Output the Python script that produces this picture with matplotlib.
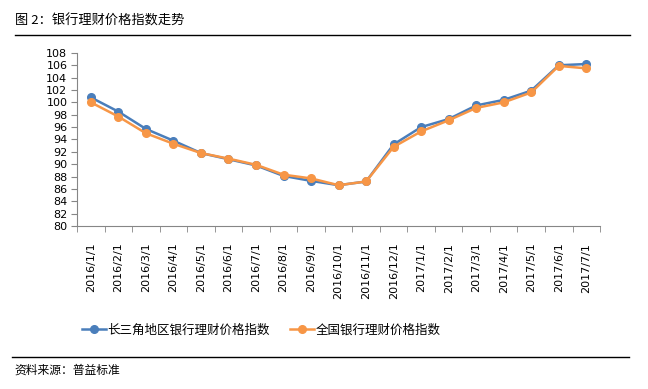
import matplotlib
matplotlib.use('Agg')
import matplotlib.pyplot as plt
from matplotlib.lines import Line2D

plt.rcParams['font.family'] = ['Noto Sans CJK SC', 'DejaVu Sans']

dates = ['2016/1/1', '2016/2/1', '2016/3/1', '2016/4/1', '2016/5/1', '2016/6/1',
         '2016/7/1', '2016/8/1', '2016/9/1', '2016/10/1', '2016/11/1', '2016/12/1',
         '2017/1/1', '2017/2/1', '2017/3/1', '2017/4/1', '2017/5/1', '2017/6/1',
         '2017/7/1']
csj = [100.8, 98.5, 95.7, 93.8, 91.8, 90.8, 89.8, 88.1, 87.3, 86.6, 87.2, 93.2,
       96.0, 97.3, 99.5, 100.4, 101.9, 106.0, 106.2]
national = [100.0, 97.7, 95.0, 93.3, 91.8, 90.9, 89.9, 88.3, 87.7, 86.6, 87.2, 92.8,
            95.3, 97.1, 99.1, 100.0, 101.6, 105.9, 105.5]

blue = '#4A7EBB'
orange = '#F79646'
grey = '#868686'

fig = plt.figure(figsize=(6.48, 3.89), dpi=100)
ax = fig.add_axes([0.119, 0.419, 0.807, 0.445])

x = list(range(len(dates)))
ax.plot(x, csj, color=blue, lw=1.8, marker='o', ms=5.5, label='长三角地区银行理财价格指数')
ax.plot(x, national, color=orange, lw=1.8, marker='o', ms=5.5, label='全国银行理财价格指数')

ax.set_xlim(-0.5, len(dates) - 0.5)
ax.set_ylim(80, 108)
ax.set_yticks(range(80, 109, 2))
ax.set_xticks(x)
ax.set_xticklabels(dates, rotation=90, fontsize=8, family='DejaVu Sans')
for t in ax.get_yticklabels():
    t.set_family('DejaVu Sans')
ax.set_xticks([i - 0.5 for i in range(len(dates) + 1)], minor=True)
ax.tick_params(axis='x', which='major', length=0, pad=12)
ax.tick_params(axis='x', which='minor', length=4, color=grey, direction='out')
ax.tick_params(axis='y', length=4, color=grey, labelsize=8, pad=3)

for s in ['top', 'right']:
    ax.spines[s].set_visible(False)
for s in ['left', 'bottom']:
    ax.spines[s].set_color(grey)

fig.legend(loc='center', bbox_to_anchor=(0.403, 0.152), ncol=2, frameon=False,
           fontsize=9, handlelength=1.9, columnspacing=1.6, handletextpad=0.15)

fig.text(0.023, 0.945, '图 2：银行理财价格指数走势', fontsize=9.5, va='center')
fig.add_artist(Line2D([0.023, 0.972], [0.91, 0.91], color='black', lw=1))
fig.add_artist(Line2D([0.018, 0.97], [0.082, 0.082], color='black', lw=1))
fig.text(0.023, 0.048, '资料来源：普益标准', fontsize=8.5, va='center')

fig.savefig('out.png', dpi=100)
